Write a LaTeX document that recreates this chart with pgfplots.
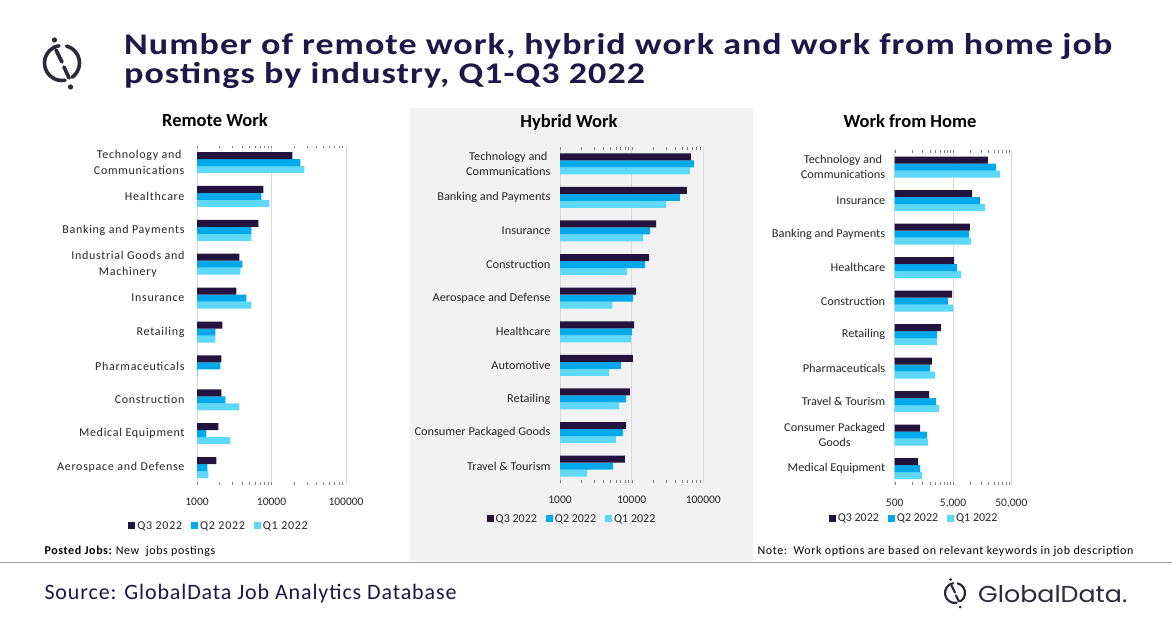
\documentclass[border=0pt]{standalone}
\usepackage{pgfplots}
\pgfplotsset{compat=1.18}
\usepackage{pgfplotstable}
\usepackage{fontspec}
\setmainfont{Carlito}
\newfontfamily\logofont{Poppins}
\definecolor{qthree}{HTML}{22143F}
\definecolor{qtwo}{HTML}{00A9EC}
\definecolor{qone}{HTML}{5DD8F7}
\definecolor{titlec}{HTML}{1F1747}
\definecolor{gridc}{HTML}{D9D9D9}
\definecolor{panelc}{HTML}{F2F2F2}
\definecolor{txt}{HTML}{262626}
\definecolor{logoc}{HTML}{2B2A38}

\pgfplotstableread{
y q3 q2 q1
0 19000 24400 27600
1 7770 7300 9350
2 6660 5360 5360
3 3700 4060 3820
4 3370 4590 5360
5 2190 1760 1760
6 2120 2060 1030
7 2120 2400 3700
8 1930 1335 2800
9 1820 1377 1420
}\remote
\pgfplotstableread{
y q3 q2 q1
0 67300 74100 65200
1 59200 47200 30100
2 21900 18000 14400
3 17500 15300 8610
4 11500 10400 5320
5 10800 10100 9790
6 10400 7100 4830
7 9480 8340 6660
8 8340 7570 6040
9 8070 5490 2380
}\hybrid
\pgfplotstableread{
y q3 q2 q1
0 19900 27300 32000
1 10600 14500 17700
2 9780 9400 10200
3 5200 5860 6860
4 4810 4100 5000
5 3110 2660 2660
6 2180 2020 2460
7 1940 2560 2880
8 1360 1790 1860
9 1260 1360 1470
}\wfh

\pgfplotsset{
  sq legend/.style={legend image code/.code={\fill[##1] (0pt,-3.5pt) rectangle (7pt,3.5pt);}},
  every axis/.append style={
    scale only axis,
    y dir=reverse,
    ymin=-0.5, ymax=9.5,
    ytick={0,...,9},
    axis line style={draw=none},
    major tick length=0pt,
    xmajorgrids, major grid style={gridc, line width=0.8pt},
    yticklabel style={align=center, font=\fontsize{12}{15.5}\selectfont\addfontfeature{FakeStretch=1.03}, text=txt, xshift=-6pt},
    xticklabel style={font=\fontsize{11.5}{14}\selectfont, text=txt, yshift=-10pt},
    legend columns=3,
    reverse legend,
    legend style={draw=none, fill=none, font=\fontsize{12}{14}\selectfont, text=txt,
      /tikz/every even column/.append style={column sep=7pt}, anchor=center},
  },
}

\begin{document}
\begin{tikzpicture}
\path[use as bounding box, fill=white] (0,0) rectangle (1172pt,628pt);
% middle panel background
\fill[panelc] (410pt,67pt) rectangle (753pt,520pt);
% separator
\draw[gray!75, line width=1pt] (0pt,65pt) -- (1172pt,65pt);

% logo icon top-left
\begin{scope}[shift={(62pt,565pt)}, line width=3.6pt, logoc, line cap=round]
  \draw (100:17.5pt) arc (100:280:17.5pt);
  \draw (-55:17.5pt) arc (-55:75:17.5pt);
  \draw (-6pt,13pt) -- (0pt,1pt);
  \draw (2pt,-4pt) -- (7pt,-15pt);
  \fill (-7.5pt,23pt) circle (2.6pt);
  \fill (8.5pt,-24pt) circle (2.6pt);
\end{scope}

% title
\node[anchor=base west, inner sep=0pt, text depth=0pt, text=titlec, font=\fontsize{30}{30}\selectfont\bfseries\addfontfeature{FakeStretch=1.2,LetterSpace=3.5}] at (124pt,573pt)
 {Number of remote work, hybrid work and work from home job};
\node[anchor=base west, inner sep=0pt, text height=17pt, text=titlec, font=\fontsize{30}{30}\selectfont\bfseries\addfontfeature{FakeStretch=1.2,LetterSpace=3.5}] at (124pt,544.5pt)
 {postings by industry, Q1-Q3 2022};

% panel titles
\node[font=\fontsize{18.5}{22}\selectfont\bfseries, text=black] at (215pt,508pt) {Remote Work};
\node[font=\fontsize{18.5}{22}\selectfont\bfseries, text=black] at (569pt,506pt) {Hybrid Work};
\node[font=\fontsize{18.5}{22}\selectfont\bfseries, text=black] at (910pt,507pt) {Work from Home};

% Remote
\begin{axis}[xmode=log, log origin x=infty, xbar=0pt, bar width=7pt,
  at={(197pt,143.4pt)}, anchor=south west, width=149pt, height=339pt,
  xmin=1000, xmax=100000, xtick={1000,10000,100000}, xticklabels={1000,10000,100000},
  yticklabel style={font=\fontsize{12}{15.5}\selectfont\addfontfeature{LetterSpace=6}, xshift=-3pt},
  yticklabels={{Technology and\\Communications},Healthcare,Banking and Payments,{Industrial Goods and\\Machinery},Insurance,Retailing,Pharmaceuticals,Construction,Medical Equipment,Aerospace and Defense},
  legend style={at={(0.148,-0.122)}, font=\fontsize{12}{14}\selectfont\addfontfeature{LetterSpace=6}}]
\addplot[draw=none, fill=qone, sq legend] table[x=q1,y=y]{\remote};
\addplot[draw=none, fill=qtwo, sq legend] table[x=q2,y=y]{\remote};
\addplot[draw=none, fill=qthree, sq legend] table[x=q3,y=y]{\remote};
\legend{Q1 2022,Q2 2022,Q3 2022}
\end{axis}

% Hybrid
\begin{axis}[xmode=log, log origin x=infty, xbar=0pt, bar width=7pt,
  at={(560pt,145pt)}, anchor=south west, width=143.3pt, height=336pt,
  xmin=1000, xmax=100000, xtick={1000,10000,100000}, xticklabels={1000,10000,100000},
  yticklabels={{Technology and\\Communications},Banking and Payments,Insurance,Construction,Aerospace and Defense,Healthcare,Automotive,Retailing,Consumer Packaged Goods,Travel \& Tourism},
  legend style={at={(0.084,-0.107)}}]
\addplot[draw=none, fill=qone, sq legend] table[x=q1,y=y]{\hybrid};
\addplot[draw=none, fill=qtwo, sq legend] table[x=q2,y=y]{\hybrid};
\addplot[draw=none, fill=qthree, sq legend] table[x=q3,y=y]{\hybrid};
\legend{Q1 2022,Q2 2022,Q3 2022}
\end{axis}

% Work from home
\begin{axis}[xmode=log, log origin x=infty, xbar=0pt, bar width=7pt,
  at={(894.7pt,142.7pt)}, anchor=south west, width=116.6pt, height=335pt,
  xmin=500, xmax=50000, xtick={500,5000,50000}, xticklabels={500,{5,000},{50,000}},
  yticklabels={{Technology and\\Communications},Insurance,Banking and Payments,Healthcare,Construction,Retailing,Pharmaceuticals,Travel \& Tourism,{Consumer Packaged\\Goods},Medical Equipment},
  legend style={at={(0.166,-0.1)}}]
\addplot[draw=none, fill=qone, sq legend] table[x=q1,y=y]{\wfh};
\addplot[draw=none, fill=qtwo, sq legend] table[x=q2,y=y]{\wfh};
\addplot[draw=none, fill=qthree, sq legend] table[x=q3,y=y]{\wfh};
\legend{Q1 2022,Q2 2022,Q3 2022}
\end{axis}

% footnotes
\node[anchor=west, font=\fontsize{12}{14}\selectfont\addfontfeature{LetterSpace=5}, text=black] at (41pt,77pt) {\textbf{Posted Jobs:}\ New\ \ jobs postings};
\node[anchor=east, font=\fontsize{12}{14}\selectfont\addfontfeature{LetterSpace=5}, text=black] at (1137pt,77pt) {Note:\ \ Work options are based on relevant keywords in job description};

% source
\node[anchor=west, text=titlec, font=\fontsize{22}{26}\selectfont\addfontfeature{LetterSpace=4}] at (41pt,34pt) {Source: GlobalData Job Analytics Database};

% GlobalData logo
\begin{scope}[shift={(955pt,35pt)}, line width=2.2pt, logoc, line cap=round]
  \draw (100:10pt) arc (100:280:10pt);
  \draw (-55:10pt) arc (-55:75:10pt);
  \draw (-3.5pt,7.5pt) -- (0pt,0.5pt);
  \draw (1pt,-2.5pt) -- (4pt,-8.5pt);
  \fill (-4.5pt,13.5pt) circle (1.5pt);
  \fill (5pt,-14pt) circle (1.5pt);
\end{scope}
\node[anchor=west, inner sep=0pt, text=logoc, font=\logofont\fontsize{23}{26}\selectfont\addfontfeature{FakeStretch=1.1}] at (978pt,34pt) {GlobalData.};
\end{tikzpicture}
\end{document}
